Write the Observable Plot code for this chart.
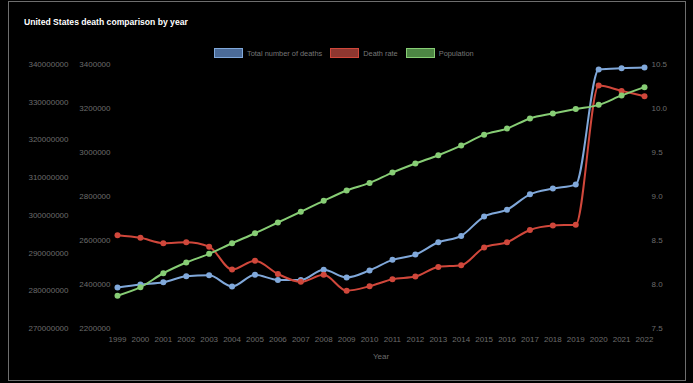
<!DOCTYPE html>
<html>
<head>
<meta charset="utf-8">
<script src="https://cdn.jsdelivr.net/npm/d3@7"></script>
<script src="https://cdn.jsdelivr.net/npm/@observablehq/plot@0.6"></script>
<style>
  html, body { margin: 0; padding: 0; background: #000; }
  body { width: 693px; height: 383px; position: relative; overflow: hidden; font-family: "Liberation Sans", Arial, sans-serif; }
  #frame { position: absolute; left: 8px; top: 1px; width: 678px; height: 380px; border: 1px solid #6e6e6e; box-sizing: border-box; }
  #title { position: absolute; left: 24px; top: 17px; color: #fff; font-weight: bold; font-size: 8.6px; white-space: nowrap; }
  #legend { position: absolute; left: 214px; top: 48px; display: flex; align-items: center; font-size: 7.4px; color: #777; white-space: nowrap; }
  .item { display: flex; align-items: center; margin-right: 8px; }
  .box { width: 27px; height: 8px; border: 1px solid; margin-right: 4px; }
  #chart { position: absolute; left: 0; top: 0; }
</style>
</head>
<body>
<div id="frame"></div>
<div id="chart"></div>
<div id="title">United States death comparison by year</div>
<div id="legend"></div>
<script>
const years = [1999,2000,2001,2002,2003,2004,2005,2006,2007,2008,2009,2010,2011,2012,2013,2014,2015,2016,2017,2018,2019,2020,2021,2022];
const totalDeaths = [2386000,2400000,2410000,2437000,2442000,2391000,2444000,2421000,2420000,2467000,2432000,2464000,2512000,2536000,2592000,2621000,2709000,2740000,2810000,2836000,2854000,3377000,3383000,3386000];
const deathRate = [8.56,8.53,8.47,8.48,8.43,8.17,8.27,8.12,8.03,8.11,7.93,7.98,8.06,8.09,8.20,8.22,8.42,8.48,8.62,8.67,8.68,10.26,10.20,10.14];
const population = [278700000,280950000,284650000,287500000,289800000,292600000,295250000,298100000,300950000,303850000,306600000,308600000,311350000,313750000,315950000,318500000,321400000,323000000,325700000,327000000,328200000,329300000,331800000,334000000];

const deathTicks = [2200000,2400000,2600000,2800000,3000000,3200000,3400000];
const popTicks = [270000000,280000000,290000000,300000000,310000000,320000000,330000000,340000000];
const rateTicks = [7.5,8.0,8.5,9.0,9.5,10.0,10.5];

const seriesNames = ["Total number of deaths","Death rate","Population"];
const lineColors = ["#80a8da","#d0473b","#87cd75"];
const boxFills = ["#4b6b98","#8e3730","#4d8644"];

// Map secondary series onto the primary (deaths) y scale
const D0 = 2200000, D1 = 3400000;
const popToY = v => D0 + (v - 270000000) / 70000000 * (D1 - D0);
const yToPop = y => 270000000 + (y - D0) / (D1 - D0) * 70000000;
const rateToY = v => D0 + (v - 7.5) / 3 * (D1 - D0);
const yToRate = y => 7.5 + (y - D0) / (D1 - D0) * 3;

const data = [];
years.forEach((yr, i) => {
  data.push({year: yr, series: seriesNames[0], y: totalDeaths[i]});
  data.push({year: yr, series: seriesNames[1], y: rateToY(deathRate[i])});
  data.push({year: yr, series: seriesNames[2], y: popToY(population[i])});
});

const axisStyle = {tickSize: 0, fill: "#6c6c6c", fontSize: 8, label: null};

const plot = Plot.plot({
  width: 693,
  height: 383,
  marginTop: 64,
  marginBottom: 55,
  marginLeft: 117,
  marginRight: 49,
  style: {background: "transparent", fontFamily: "Liberation Sans, Arial, sans-serif"},
  x: {type: "linear", domain: [1999, 2022]},
  y: {domain: [D0, D1]},
  color: {domain: seriesNames, range: lineColors},
  marks: [
    Plot.axisX({ticks: years, tickFormat: d => String(d), tickSize: 0, tickPadding: 8, fill: "#6c6c6c", fontSize: 8, label: "Year", labelAnchor: "center", labelArrow: "none", labelOffset: 30}),
    Plot.axisY({...axisStyle, anchor: "left", ticks: deathTicks, tickFormat: d => String(d), tickPadding: 7}),
    Plot.axisY(popTicks.map(popToY), {...axisStyle, anchor: "left", tickFormat: d => String(Math.round(yToPop(d) / 1e6) * 1e6), tickPadding: 49}),
    Plot.axisY(rateTicks.map(rateToY), {...axisStyle, anchor: "right", tickFormat: d => yToRate(d).toFixed(1), tickPadding: 7, textAnchor: "start"}),
    Plot.line(data, {x: "year", y: "y", z: "series", stroke: "series", strokeWidth: 2, curve: "monotone-x"}),
    Plot.dot(data, {x: "year", y: "y", fill: "series", r: 3})
  ]
});
document.getElementById("chart").appendChild(plot);

const legend = document.getElementById("legend");
seriesNames.forEach((name, i) => {
  const item = document.createElement("div");
  item.className = "item";
  const box = document.createElement("div");
  box.className = "box";
  box.style.background = boxFills[i];
  box.style.borderColor = lineColors[i];
  const label = document.createElement("span");
  label.textContent = name;
  item.appendChild(box);
  item.appendChild(label);
  legend.appendChild(item);
});
</script>
</body>
</html>
